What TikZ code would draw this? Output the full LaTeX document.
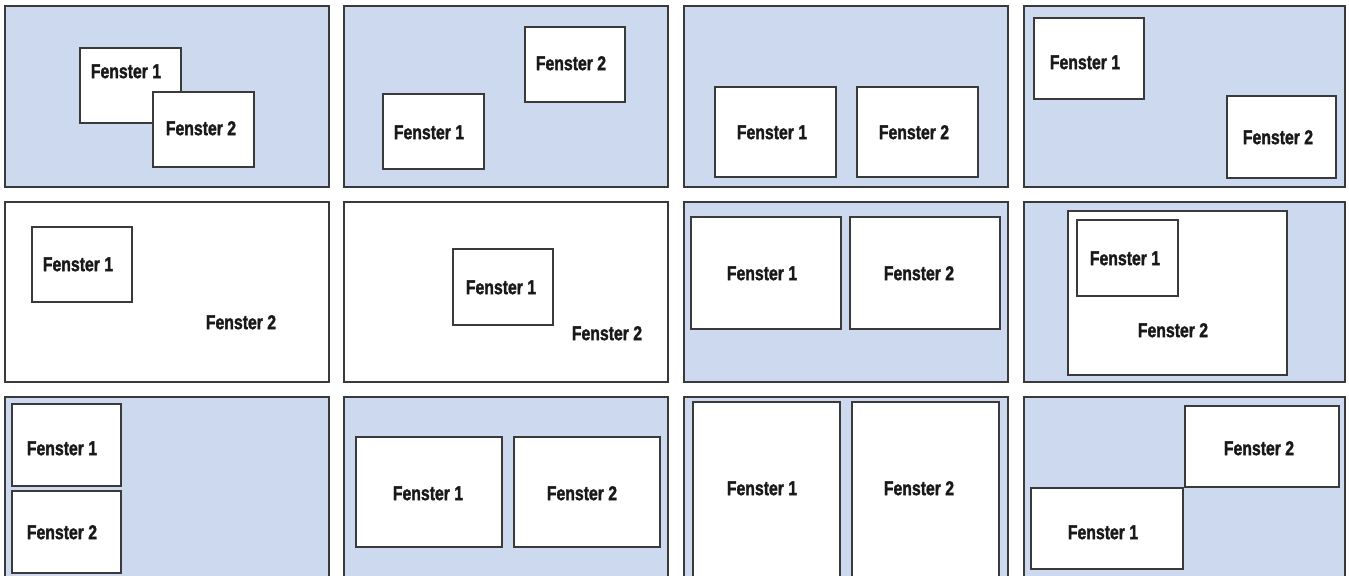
\documentclass[tikz,border=0pt]{standalone}
\usepackage{fontspec}
\usepackage{tikz}
\usepackage{xcolor}
\newfontfamily\fensterfont[FakeStretch=0.79, BoldFeatures={FakeBold=1.6}]{Liberation Sans}
\definecolor{panelblue}{RGB}{205,217,238}
\definecolor{edgegray}{RGB}{58,58,58}
\tikzset{
  panel/.style={draw=edgegray, line width=0.9pt, fill=panelblue},
  blank/.style={draw=edgegray, line width=0.9pt, fill=white},
  win/.style={draw=edgegray, line width=0.9pt, fill=white},
  lbl/.style={font=\fensterfont\bfseries\fontsize{15}{16}\selectfont, inner sep=0pt, text height=10.7pt, text depth=0pt, text=black!90}
}
\begin{document}
\begin{tikzpicture}[x=0.75pt, y=-0.75pt]
\useasboundingbox (0,0) rectangle (1349,575);
\clip (0,0) rectangle (1349,575);
% row 1
\draw[panel] (5,6) rectangle (329,187);
\draw[win] (80,48) rectangle (181,123);
\draw[win] (153,92) rectangle (254,167);
\node[lbl] (a1) at (126,71) {Fenster 1};
\node[lbl] (a2) at (201,128) {Fenster 2};

\draw[panel] (344,6) rectangle (668,187);
\draw[win] (383,94) rectangle (484,169);
\draw[win] (525,27) rectangle (625,102);
\node[lbl] (b1) at (429,132) {Fenster 1};
\node[lbl] (b2) at (571,63) {Fenster 2};

\draw[panel] (684,6) rectangle (1008,187);
\draw[win] (715,87) rectangle (836,177);
\draw[win] (857,87) rectangle (978,177);
\node[lbl] (c1) at (772,132) {Fenster 1};
\node[lbl] (c2) at (914,132) {Fenster 2};

\draw[panel] (1024,6) rectangle (1345,187);
\draw[win] (1034,18) rectangle (1144,99);
\draw[win] (1227,96) rectangle (1336,178);
\node[lbl] (d1) at (1085,62) {Fenster 1};
\node[lbl] (d2) at (1278,137) {Fenster 2};

% row 2
\draw[blank] (5,202) rectangle (329,382);
\draw[win] (32,227) rectangle (132,302);
\node[lbl] (e1) at (78,264) {Fenster 1};
\node[lbl] (e2) at (241,322) {Fenster 2};

\draw[blank] (344,202) rectangle (668,382);
\draw[win] (453,249) rectangle (553,325);
\node[lbl] (f1) at (501,287) {Fenster 1};
\node[lbl] (f2) at (607,333) {Fenster 2};

\draw[panel] (684,202) rectangle (1008,382);
\draw[win] (691,217) rectangle (841,329);
\draw[win] (850,217) rectangle (1000,329);
\node[lbl] (g1) at (762,273) {Fenster 1};
\node[lbl] (g2) at (919,273) {Fenster 2};

\draw[panel] (1024,202) rectangle (1345,382);
\draw[win] (1068,211) rectangle (1287,375);
\draw[win] (1077,220) rectangle (1178,296);
\node[lbl] (h1) at (1125,258) {Fenster 1};
\node[lbl] (h2) at (1173,330) {Fenster 2};

% row 3
\draw[panel] (5,397) rectangle (329,590);
\draw[win] (12,404) rectangle (121,486);
\draw[win] (12,491) rectangle (121,573);
\node[lbl] (i1) at (62,448) {Fenster 1};
\node[lbl] (i2) at (62,532) {Fenster 2};

\draw[panel] (344,397) rectangle (668,590);
\draw[win] (356,437) rectangle (502,547);
\draw[win] (514,437) rectangle (660,547);
\node[lbl] (j1) at (428,493) {Fenster 1};
\node[lbl] (j2) at (582,493) {Fenster 2};

\draw[panel] (684,397) rectangle (1008,590);
\draw[win] (693,402) rectangle (840,590);
\draw[win] (852,402) rectangle (999,590);
\node[lbl] (k1) at (762,488) {Fenster 1};
\node[lbl] (k2) at (919,488) {Fenster 2};

\draw[panel] (1024,397) rectangle (1345,590);
\draw[win] (1185,406) rectangle (1339,487);
\draw[win] (1031,488) rectangle (1183,569);
\node[lbl] (l1) at (1103,532) {Fenster 1};
\node[lbl] (l2) at (1259,448) {Fenster 2};
\end{tikzpicture}
\end{document}
